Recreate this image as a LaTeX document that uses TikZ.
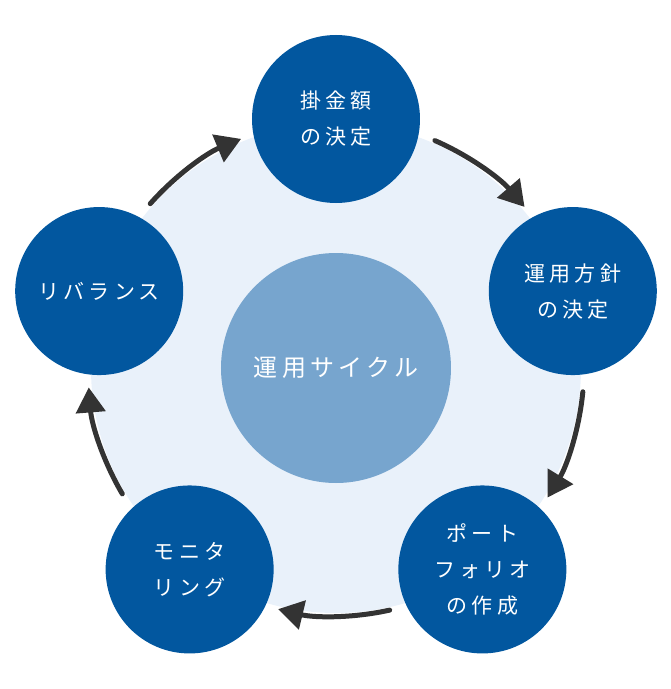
\documentclass[tikz,border=0pt]{standalone}
\usepackage{fontspec}
\newfontfamily\jp[LetterSpace=20]{Noto Sans CJK JP}
\newfontfamily\jpwide[LetterSpace=18]{Noto Sans CJK JP}
\usetikzlibrary{arrows.meta}
\definecolor{navy}{HTML}{02579F}
\definecolor{midblue}{HTML}{77A5CE}
\definecolor{paleblue}{HTML}{E9F1FA}
\definecolor{arrowgray}{HTML}{333333}
\begin{document}
\begin{tikzpicture}[x=1pt,y=1pt,
  stage/.style={circle, fill=navy, minimum size=168pt, inner sep=0pt, text=white, align=center, font=\jp\fontsize{21}{36}\selectfont},
  flow/.style={arrowgray, line width=5pt, line cap=round, -{Triangle[length=25pt,width=29pt]}}]
  \useasboundingbox (-336,-321) rectangle (335,368);
  \fill[paleblue] (0,0) circle (245);
  \node[circle, fill=midblue, minimum size=230pt, inner sep=0pt, text=white, font=\jpwide\fontsize{24}{28}\selectfont] (hub) at (0,0) {運用サイクル};
  \node[stage] (kakekin) at (90:249) {掛金額\\の決定};
  \node[stage] (houshin) at (18:249) {運用方針\\の決定};
  \node[stage] (portfolio) at (-54:249) {ポート\\フォリオ\\の作成};
  \node[stage] (monitor) at (-126:249) {モニタ\\リング};
  \node[stage] (rebalance) at (162:249) {リバランス};
  \foreach \m in {54,-18,-90,-162,126}
    \draw[flow] ({\m+12.5}:248) arc[start angle=\m+12.5, end angle=\m-13.5, radius=248];
\end{tikzpicture}
\end{document}
